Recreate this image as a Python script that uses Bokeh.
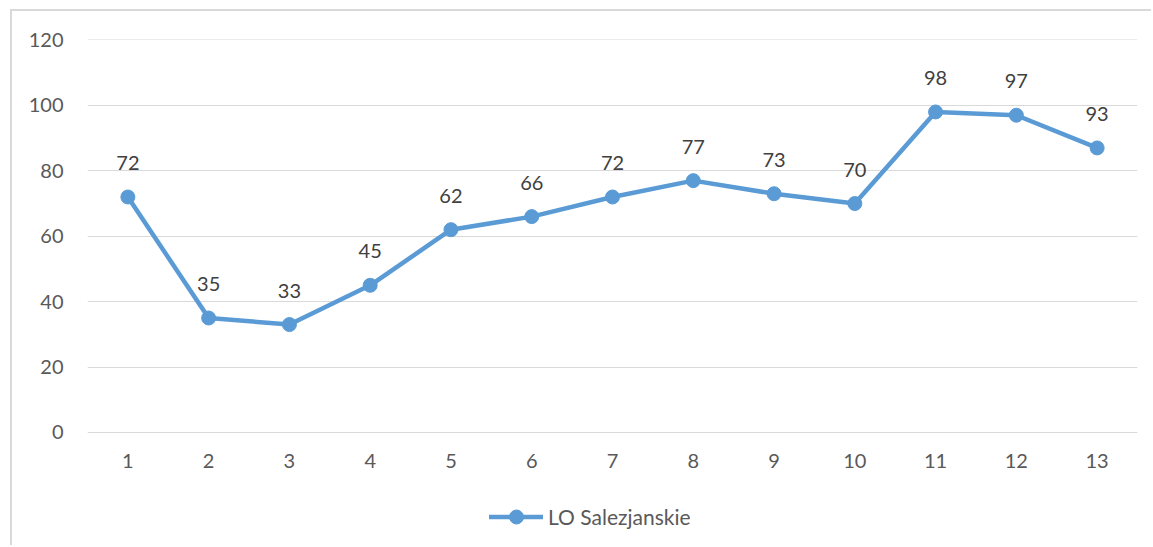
from bokeh.plotting import figure
from bokeh.models import ColumnDataSource, FixedTicker, Range1d, Legend, LegendItem
from bokeh.core.properties import value
from bokeh.embed import file_html
from bokeh.resources import INLINE

# ---- data ----
categories = [1, 2, 3, 4, 5, 6, 7, 8, 9, 10, 11, 12, 13]
values = [72, 35, 33, 45, 62, 66, 72, 77, 73, 70, 98, 97, 87]
data_labels = ["72", "35", "33", "45", "62", "66", "72", "77", "73", "70", "98", "97", "93"]
y_ticks = [0, 20, 40, 60, 80, 100, 120]
series_name = "LO Salezjanskie"

BLUE = "#5B9BD5"
FONT = "Lato"

src = ColumnDataSource(dict(x=categories, y=values, lab=data_labels))

# frame spans from the 120 gridline down to the bottom of the canvas,
# so the legend can sit inside it; the category axis is pinned at y = 0
p = figure(width=1141, height=536, output_backend="svg", toolbar_location=None,
           x_range=Range1d(0.5, 13.5), y_range=Range1d(-35.16, 120.15),
           min_border_left=75, min_border_right=16, min_border_top=28, min_border_bottom=0)
p.outline_line_color = None
p.background_fill_color = "white"
p.border_fill_color = "white"
p.styles = {"border-left": "2px solid #D9D9D9", "border-top": "2px solid #D9D9D9",
            "margin-left": "10px", "margin-top": "9px"}

# axes
p.yaxis.ticker = FixedTicker(ticks=y_ticks)
p.xaxis.ticker = FixedTicker(ticks=categories)
p.xaxis.fixed_location = 0
for ax in (p.xaxis, p.yaxis):
    ax.axis_line_color = None
    ax.major_tick_line_color = None
    ax.minor_tick_line_color = None
    ax.major_tick_out = 0
    ax.major_tick_in = 0
    ax.major_label_text_font = FONT
    ax.major_label_text_font_size = "20px"
    ax.major_label_text_color = "#595959"
p.yaxis.major_label_standoff = 24
p.xaxis.major_label_standoff = 22

p.xgrid.grid_line_color = None
p.ygrid.grid_line_color = "#D9D9D9"
p.ygrid.grid_line_width = 1
p.ygrid.ticker = FixedTicker(ticks=y_ticks)

r_line = p.line("x", "y", source=src, line_color=BLUE, line_width=4.5, line_cap="round", line_join="round")
r_pts = p.scatter("x", "y", source=src, size=14, fill_color=BLUE, line_color=BLUE)

p.text("x", "y", text="lab", source=src, text_align="center", text_baseline="alphabetic",
       y_offset=-34, text_font=value(FONT), text_font_size="20px", text_color="#404040")

legend = Legend(items=[LegendItem(label=series_name, renderers=[r_line, r_pts])],
                location=(402, 13), orientation="horizontal",
                glyph_width=54, glyph_height=35, label_height=35, label_standoff=5,
                padding=0, margin=0, spacing=0,
                border_line_color=None, background_fill_color=None,
                label_text_font=FONT, label_text_font_size="21px", label_text_color="#595959")
p.add_layout(legend)

open("out.html", "w").write(file_html(p, INLINE))
